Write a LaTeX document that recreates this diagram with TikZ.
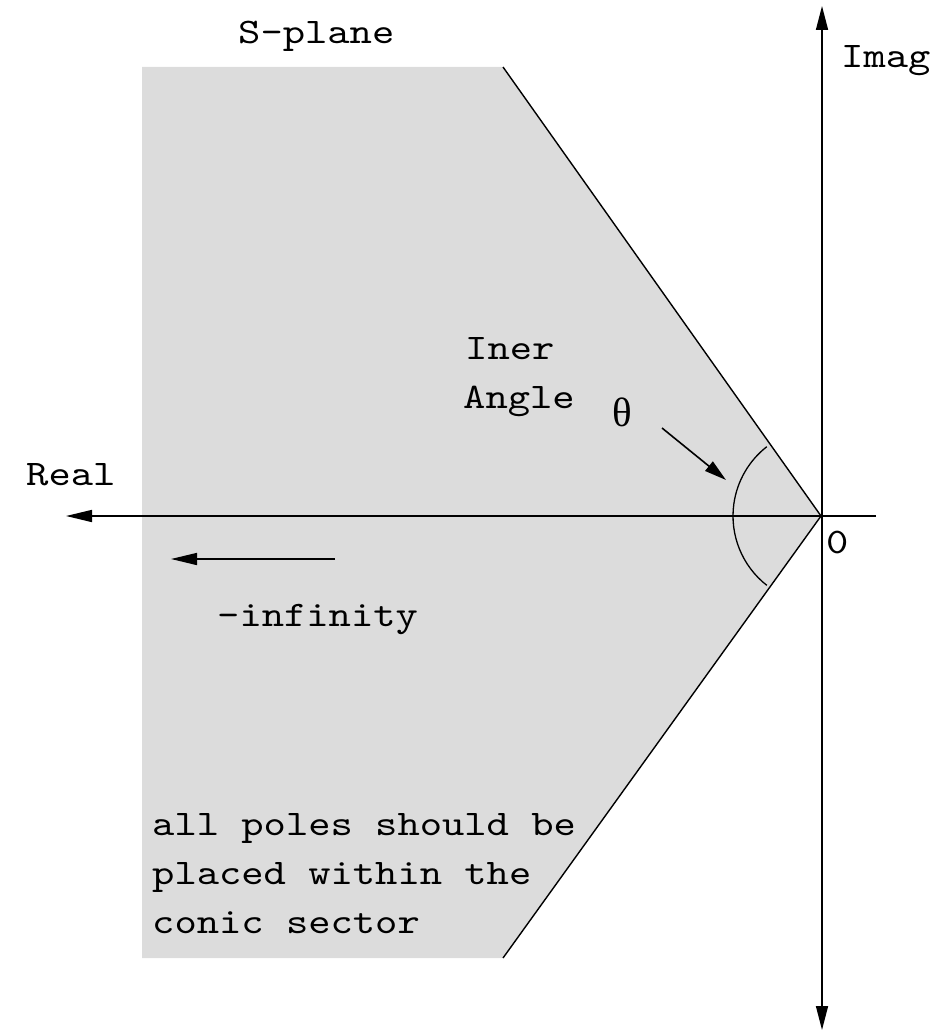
\documentclass[tikz,border=0pt]{standalone}
\usepackage{fontspec}
\setmonofont{lmmono10-regular}[Extension=.otf, FakeStretch=1.18]
\newfontfamily\grkfont{Liberation Serif}
\usetikzlibrary{arrows.meta}
\definecolor{planegray}{RGB}{220,220,220}
\tikzset{
  lbl/.style={inner sep=0pt, anchor=base west, font=\ttfamily\fontsize{36}{49}\selectfont},
  axisline/.style={line width=1.6pt, -{Triangle[length=26pt,width=12pt]}},
  bothaxis/.style={line width=1.6pt, {Triangle[length=24pt,width=12pt]}-{Triangle[length=24pt,width=12pt]}},
  edge/.style={line width=1.4pt},
}
\begin{document}
\begin{tikzpicture}[x=1pt,y=-1pt]
\useasboundingbox (0,0) rectangle (945,1032);
% region
\coordinate (tl) at (142,67);
\coordinate (tr) at (503,67);
\coordinate (v) at (821,516);
\coordinate (br) at (503,958);
\coordinate (bl) at (142,958);
\fill[planegray] (tl) -- (tr) -- (v) -- (br) -- (bl) -- cycle;
\draw[edge] (tr) -- (v) -- (br);
% axes
\coordinate (xr) at (876,516);
\coordinate (xl) at (66,516);
\coordinate (yb) at (822,1030);
\coordinate (yt) at (822,6);
\draw[axisline] (xr) -- (xl);
\draw[bothaxis] (yb) -- (yt);
% angle arc
\draw[line width=1.3pt] (v) ++(128:88) arc[start angle=128, end angle=232, radius=88];
% labels
\node[lbl] (splane) at (238,44) {S-plane};
\node[lbl] (imag) at (841,68) {Imag};
\node[lbl] (real) at (26,485) {Real};
\node[lbl] (zero) at (826,553) {0};
\node[lbl] (iner) at (465,359) {Iner};
\node[lbl] (angle) at (463,408) {Angle};
\node[inner sep=0pt, font=\grkfont\fontsize{41}{48}\selectfont] (theta) at (622,412) {θ};
\node[lbl] (inf) at (217,626) {-infinity};
\node[lbl, align=left, anchor=north west] (note) at (152,813) {all poles should be\\placed within the\\conic sector};
% arrows
\coordinate (ta) at (662,428);
\coordinate (tb) at (726,480);
\draw[line width=1.6pt, -{Triangle[length=22pt,width=12pt]}] (ta) -- (tb);
\coordinate (ia) at (335,559);
\coordinate (ib) at (171,559);
\draw[axisline] (ia) -- (ib);
\end{tikzpicture}
\end{document}
